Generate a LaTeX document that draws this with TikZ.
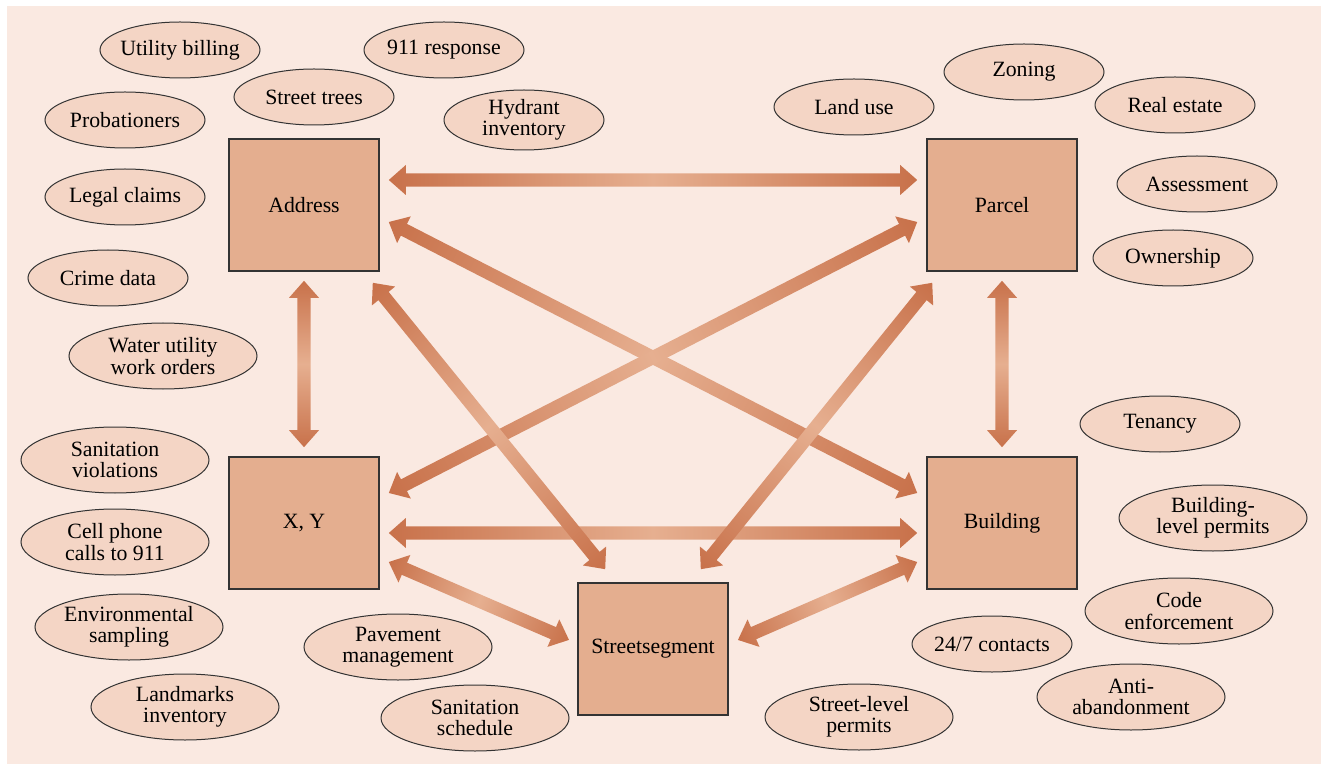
\documentclass[tikz,border=0pt]{standalone}
\usepackage{fontspec}
\setmainfont{Liberation Serif}
\usetikzlibrary{calc,shapes.geometric}

\definecolor{bgpink}{HTML}{FAE9E1}
\definecolor{ovalfill}{HTML}{F4D5C5}
\definecolor{boxfill}{HTML}{E4AE8F}
\definecolor{arrowdark}{HTML}{C8714A}
\definecolor{arrowlight}{HTML}{E6AF90}

\tikzset{
	entity/.style={draw=black!80, line width=0.8pt, fill=boxfill, minimum width=75pt, minimum height=66pt, inner sep=0pt, font=\fontsize{10.9}{10.6}\selectfont},
	usecase/.style={ellipse, draw=black!80, line width=0.5pt, fill=ovalfill, minimum width=80pt, minimum height=28pt, inner xsep=-5pt, inner ysep=0pt, align=center, font=\fontsize{10.9}{10.6}\selectfont},
	usecasewide/.style={usecase, minimum width=94pt, minimum height=33pt},
}

% double headed arrow, dark at both ends and light in the middle
\newcommand{\biarrow}[2]{%
	\path let \p1=#1, \p2=#2 in \pgfextra{%
		\pgfmathsetmacro\tmpang{atan2(\y2-\y1,\x2-\x1)}\global\let\arrang\tmpang
		\pgfmathsetmacro\tmplen{veclen(\x2-\x1,\y2-\y1)}\global\let\arrlen\tmplen
		\xdef\arrx{\x1}\xdef\arry{\y1}};
	\begin{scope}[transform canvas={shift={(\arrx,\arry)}, rotate=\arrang}]
		\shade[left color=arrowdark, right color=arrowdark, middle color=arrowlight]
			(0pt,0pt) -- (8.5pt,7.5pt) -- (8.5pt,3.3pt) -- ({\arrlen pt-8.5pt},3.3pt) -- ({\arrlen pt-8.5pt},7.5pt)
			-- (\arrlen pt,0pt) -- ({\arrlen pt-8.5pt},-7.5pt) -- ({\arrlen pt-8.5pt},-3.3pt) -- (8.5pt,-3.3pt) -- (8.5pt,-7.5pt) -- cycle;
	\end{scope}
}

\begin{document}
\begin{tikzpicture}[x=0.5pt, y=-0.5pt]
	\useasboundingbox (0,0) rectangle (1321,764);
	\fill[bgpink] (7,6) rectangle (1321,764);

	% the five spatial keys
	\node[entity] (addr) at (304,205) {Address};
	\node[entity] (parcel) at (1002,205) {Parcel};
	\node[entity] (xy) at (304,523) {X, Y};
	\node[entity] (bldg) at (1002,523) {Building};
	\node[entity] (street) at (653,649) {Streetsegment};

	% links between the keys
	\biarrow{($(addr.east)+(9,-25)$)}{($(parcel.west)+(-9,-25)$)}
	\biarrow{($(xy.east)+(9,10)$)}{($(bldg.west)+(-9,10)$)}
	\biarrow{($(addr.south)+(0,9)$)}{($(xy.north)+(0,-9)$)}
	\biarrow{($(parcel.south)+(0,9)$)}{($(bldg.north)+(0,-9)$)}
	\biarrow{($(addr.east)+(9,17)$)}{($(bldg.west)+(-9,-30)$)}
	\biarrow{($(parcel.west)+(-9,17)$)}{($(xy.east)+(9,-30)$)}
	\biarrow{($(addr.south east)+(-7,11)$)}{($(street.north west)+(28,-13)$)}
	\biarrow{($(parcel.south west)+(6,11)$)}{($(street.north east)+(-28,-13)$)}
	\biarrow{($(xy.east)+(9,39)$)}{($(street.west)+(-8,-9)$)}
	\biarrow{($(bldg.west)+(-9,39)$)}{($(street.east)+(9,-9)$)}

	% data sets
	\node[usecase] (billing) at (180,50) {Utility billing};
	\node[usecase] (resp911) at (444,50) {911 response};
	\node[usecase] (trees) at (314,97) {Street trees};
	\node[usecase, minimum height=30pt] (hydrant) at (524,120) {Hydrant\\inventory};
	\node[usecase] (probation) at (125,120) {Probationers};
	\node[usecase] (claims) at (125,197) {Legal claims};
	\node[usecase] (crime) at (108,278) {Crime data};
	\node[usecasewide] (water) at (163,356) {Water utility\\work orders};
	\node[usecasewide] (sanviol) at (115,460) {Sanitation\\violations};
	\node[usecasewide] (cell) at (115,542) {Cell phone\\calls to 911};
	\node[usecasewide] (envsamp) at (129,627) {Environmental\\sampling};
	\node[usecasewide] (landmark) at (185,707) {Landmarks\\inventory};
	\node[usecasewide] (pavement) at (398,647) {Pavement\\management};
	\node[usecasewide] (sanschd) at (475,718) {Sanitation\\schedule};
	\node[usecasewide] (strperm) at (859,717) {Street-level\\permits};
	\node[usecase] (contacts) at (992,644) {24/7 contacts};
	\node[usecasewide] (antiaban) at (1131,697) {Anti-\\abandonment};
	\node[usecasewide] (codeenf) at (1179,611) {Code\\enforcement};
	\node[usecasewide] (bldperm) at (1213,518) {Building-\\level permits};
	\node[usecase] (tenancy) at (1160,424) {Tenancy};
	\node[usecase] (owner) at (1173,258) {Ownership};
	\node[usecase] (assess) at (1197,184) {Assessment};
	\node[usecase] (realest) at (1175,105) {Real estate};
	\node[usecase] (zoning) at (1024,72) {Zoning};
	\node[usecase] (landuse) at (854,107) {Land use};
\end{tikzpicture}
\end{document}
